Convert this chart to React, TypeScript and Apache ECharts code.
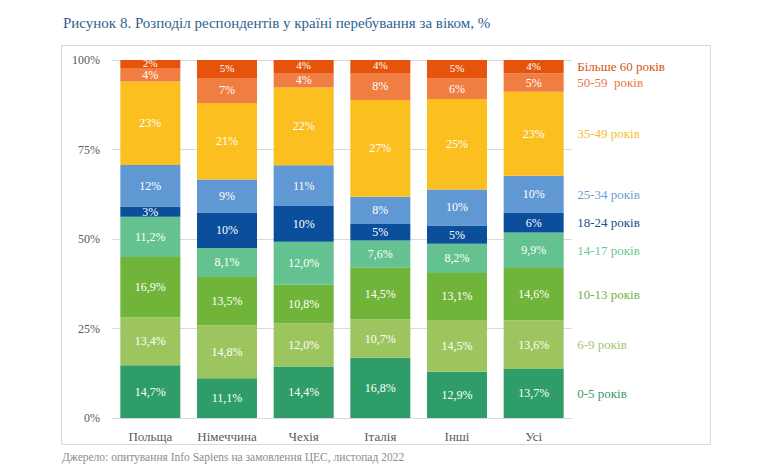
import React, { useEffect, useRef } from "react";
import * as echarts from "echarts";

const titleText = "Рисунок 8. Розподіл респондентів у країні перебування за віком, %";
const sourceText = "Джерело: опитування Info Sapiens на замовлення ЦЕС, листопад 2022";

const categories = ["Польща", "Німеччина", "Чехія", "Італія", "Інші", "Усі"];
const ageGroups = [
  "0-5 років",
  "6-9 років",
  "10-13 років",
  "14-17 років",
  "18-24 років",
  "25-34 років",
  "35-49 років",
  "50-59  років",
  "Більше 60 років",
];

const age0_5 = [14.7, 11.1, 14.4, 16.8, 12.9, 13.7];
const age6_9 = [13.4, 14.8, 12.0, 10.7, 14.5, 13.6];
const age10_13 = [16.9, 13.5, 10.8, 14.5, 13.1, 14.6];
const age14_17 = [11.2, 8.1, 12.0, 7.6, 8.2, 9.9];
const age18_24 = [2.9, 9.9, 10.0, 4.6, 5.1, 5.6];
const age25_34 = [11.6, 9.2, 11.4, 7.6, 10.0, 10.3];
const age35_49 = [23.3, 21.4, 21.7, 27.0, 25.3, 23.4];
const age50_59 = [3.8, 7.0, 4.1, 7.6, 5.7, 5.2];
const age60plus = [2.2, 5.0, 3.6, 3.6, 5.2, 3.7];

const yTicks = [0, 25, 50, 75, 100];

const seriesValues = [age0_5, age6_9, age10_13, age14_17, age18_24, age25_34, age35_49, age50_59, age60plus];
const barColors = ["#2e9d6a", "#9cc55f", "#70b43a", "#63c28f", "#0b4e9b", "#5f98d3", "#fbc020", "#f07d42", "#e6540c"];
const legendColors = ["#3a9a6c", "#a5c86a", "#76b041", "#6cc796", "#1a4f8e", "#6e9fd2", "#f5c02a", "#e87a45", "#d9540f"];
const decimals = [1, 1, 1, 1, 0, 0, 0, 0, 0];

const FONT = "'Liberation Serif', 'DejaVu Serif', serif";

export default function App() {
  const ref = useRef<HTMLDivElement>(null);
  useEffect(() => {
    if (!ref.current) return;
    const chart = echarts.init(ref.current, undefined, { renderer: "svg" });
    const lastIdx = categories.length - 1;
    const topIdx = seriesValues.length - 1;
    let cum = 0;
    const series = seriesValues.map((vals, i) => {
      const mid = cum + vals[lastIdx] / 2;
      cum += vals[lastIdx];
      return {
        name: ageGroups[i],
        type: "bar",
        stack: "total",
        barWidth: 60,
        data: vals,
        itemStyle: { color: barColors[i] },
        label: {
          show: true,
          position: "inside",
          color: "#ffffff",
          fontSize: i === topIdx ? 11 : 12,
          lineHeight: 10,
          offset: i === topIdx ? [0, -1] : [0, 0],
          fontFamily: FONT,
          formatter: (p: any) =>
            (decimals[i] === 1 ? p.value.toFixed(1).replace(".", ",") : Math.round(p.value).toString()) + "%",
        },
        markPoint: {
          silent: true,
          symbol: "rect",
          symbolSize: 1,
          itemStyle: { color: "rgba(0,0,0,0)" },
          data: [{ coord: [categories[lastIdx], mid], value: ageGroups[i] }],
          label: {
            show: true,
            position: "right",
            distance: 0,
            offset: [43, 0],
            color: legendColors[i],
            fontSize: 13,
            fontFamily: FONT,
            formatter: () => ageGroups[i],
          },
        },
      };
    });
    chart.setOption({
      animation: false,
      backgroundColor: "#ffffff",
      textStyle: { fontFamily: FONT },
      title: {
        text: titleText,
        left: 58,
        top: 10,
        textStyle: { fontSize: 15, fontWeight: "normal", color: "#2f5f8f", fontFamily: FONT },
      },
      grid: { left: 112, right: 207, top: 60, bottom: 55 },
      xAxis: {
        type: "category",
        data: categories,
        axisLine: { show: true, lineStyle: { color: "#d9d9d9" } },
        axisTick: { show: false },
        axisLabel: { interval: 0, color: "#595959", fontSize: 13, fontWeight: "normal", fontFamily: FONT, margin: 12 },
      },
      yAxis: {
        type: "value",
        min: yTicks[0],
        max: yTicks[yTicks.length - 1],
        interval: 25,
        axisLine: { show: false },
        axisTick: { show: false },
        splitLine: { lineStyle: { color: "#d9d9d9" } },
        axisLabel: { color: "#595959", fontSize: 12, fontFamily: FONT, margin: 12, formatter: "{value}%" },
      },
      graphic: [
        {
          type: "rect",
          silent: true,
          shape: { x: 61.5, y: 45.5, width: 649, height: 399 },
          style: { fill: "rgba(0,0,0,0)", stroke: "#d9d9d9", lineWidth: 1 },
        },
        {
          type: "text",
          left: 62,
          top: 451,
          style: { text: sourceText, fill: "#8c8c8c", fontSize: 11.5, fontFamily: FONT },
        },
      ],
      series,
    });
    return () => chart.dispose();
  }, []);
  return <div ref={ref} style={{ position: "absolute", left: 0, top: 0, width: 779, height: 473 }} />;
}
